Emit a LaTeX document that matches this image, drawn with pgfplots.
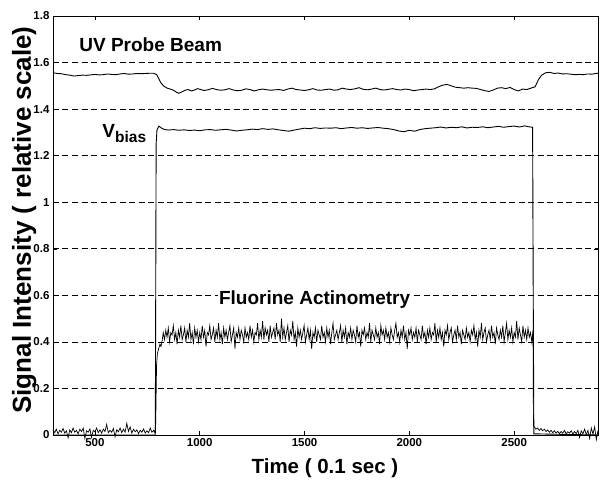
\documentclass[border=0pt]{standalone}
\usepackage{fontspec}
\setmainfont{Liberation Sans}
\usepackage{pgfplots}
\pgfplotsset{compat=1.18}
\begin{document}
\begin{tikzpicture}
\begin{axis}[
  name=ax,
  scale only axis, width=545pt, height=419pt,
  xmin=300, xmax=2900, ymin=0, ymax=1.8,
  xtick={500,1000,1500,2000,2500},
  ytick={0,0.2,0.4,0.6,0.8,1,1.2,1.4,1.6,1.8},
  /pgf/number format/1000 sep={},
  /pgf/number format/assume math mode=true,
  tick align=inside, major tick length=4pt,
  tick style={black, line width=0.5pt},
  ticklabel style={font=\bfseries\fontsize{11.5}{13}\selectfont},
  axis line style={black, line width=0.8pt},
  ymajorgrids,
  major grid style={black, line width=0.6pt, dash pattern=on 6pt off 3.5pt},
  xlabel={Time ( 0.1 sec )},
  ylabel={Signal Intensity ( relative scale)},
  every axis x label/.style={at={(axis description cs:0.499,-0.079)}, anchor=center, font=\bfseries\fontsize{20.5}{22}\selectfont},
  every axis y label/.style={at={(axis description cs:-0.053,0.513)}, rotate=90, anchor=center, font=\bfseries\fontsize{26}{28}\selectfont},
  clip=false,
]
% UV probe beam
\addplot[black, line width=0.9pt] coordinates {
(300,1.556)(320,1.553)(340,1.552)(360,1.548)(380,1.546)(400,1.542)(420,1.544)(440,1.546)(460,1.545)(480,1.547)
(500,1.549)(520,1.547)(540,1.548)(560,1.551)(580,1.549)(600,1.548)(620,1.551)(640,1.553)(660,1.550)(680,1.551)
(700,1.553)(720,1.552)(740,1.553)(760,1.554)(780,1.554)(795,1.548)(805,1.530)(815,1.512)(830,1.498)(845,1.490)
(860,1.486)(875,1.481)(890,1.472)(900,1.468)(915,1.474)(930,1.481)(945,1.484)(960,1.478)(975,1.482)(990,1.488)
(1005,1.484)(1020,1.480)(1040,1.483)(1060,1.489)(1080,1.484)(1100,1.481)(1120,1.483)(1140,1.488)(1160,1.482)(1180,1.479)
(1200,1.481)(1220,1.487)(1240,1.484)(1260,1.478)(1280,1.483)(1300,1.486)(1320,1.483)(1340,1.481)(1360,1.483)(1380,1.484)
(1400,1.480)(1420,1.486)(1440,1.490)(1460,1.484)(1480,1.482)(1500,1.480)(1520,1.483)(1540,1.488)(1560,1.482)(1580,1.481)
(1600,1.484)(1620,1.486)(1640,1.481)(1660,1.483)(1680,1.490)(1700,1.486)(1720,1.484)(1740,1.487)(1760,1.492)(1780,1.485)
(1800,1.483)(1820,1.486)(1840,1.490)(1860,1.484)(1880,1.482)(1900,1.485)(1920,1.488)(1940,1.484)(1960,1.482)(1980,1.486)
(2000,1.484)(2020,1.479)(2040,1.482)(2060,1.484)(2080,1.486)(2100,1.484)(2120,1.487)(2140,1.496)(2160,1.503)(2180,1.506)
(2200,1.500)(2220,1.494)(2240,1.492)(2260,1.490)(2280,1.492)(2300,1.490)(2320,1.489)(2340,1.484)(2360,1.479)(2380,1.476)
(2400,1.482)(2420,1.490)(2440,1.492)(2460,1.488)(2480,1.493)(2500,1.484)(2520,1.478)(2540,1.486)(2560,1.484)(2580,1.490)
(2600,1.496)(2615,1.525)(2630,1.545)(2650,1.556)(2670,1.558)(2690,1.553)(2710,1.555)(2730,1.551)(2750,1.552)(2770,1.550)
(2790,1.548)(2810,1.549)(2830,1.548)(2850,1.551)(2870,1.550)(2890,1.553)(2900,1.554)
};
% V bias
\addplot[black, line width=0.9pt] coordinates {
(300,0)(788,0)(790,0.6)(792,1.25)(796,1.31)(805,1.327)(815,1.320)(830,1.313)(850,1.310)(875,1.312)
(900,1.309)(925,1.311)(950,1.308)(975,1.310)(1000,1.307)(1025,1.311)(1050,1.312)(1075,1.309)(1100,1.311)(1125,1.313)
(1150,1.310)(1175,1.306)(1200,1.309)(1225,1.311)(1250,1.314)(1275,1.312)(1300,1.316)(1325,1.313)(1350,1.315)(1375,1.311)
(1400,1.308)(1425,1.305)(1450,1.310)(1475,1.314)(1500,1.318)(1525,1.316)(1550,1.320)(1575,1.317)(1600,1.319)(1625,1.318)
(1650,1.320)(1675,1.316)(1700,1.319)(1725,1.321)(1750,1.318)(1775,1.320)(1800,1.317)(1825,1.319)(1850,1.321)(1875,1.318)
(1900,1.316)(1925,1.312)(1950,1.306)(1975,1.303)(2000,1.309)(2025,1.305)(2050,1.312)(2075,1.316)(2100,1.318)(2125,1.320)
(2150,1.323)(2175,1.319)(2200,1.322)(2225,1.320)(2250,1.324)(2275,1.319)(2300,1.322)(2325,1.321)(2350,1.324)(2375,1.320)
(2400,1.323)(2425,1.326)(2450,1.322)(2475,1.325)(2500,1.327)(2525,1.323)(2550,1.328)(2570,1.324)(2588,1.322)(2591,0.6)
(2594,0.005)(2900,0)
};
% Fluorine actinometry
\addplot[black, line width=0.7pt] coordinates {
(300,0.02)(308,0.01)(316,0.025)(324,0.005)(332,0.02)(340,0.012)(348,0.028)(356,0.008)(364,0.018)(372,-0.012)
(380,0.022)(388,0.01)(396,0.03)(404,0.012)(412,0.02)(420,0.005)(428,0.025)(436,0.015)(444,0.03)(452,-0.015)
(460,0.018)(468,0.012)(476,0.026)(484,-0.01)(492,0.02)(500,0.014)(508,0.03)(516,0.01)(524,0.022)(532,0.008)
(540,0.025)(548,0.015)(556,0.045)(564,0.01)(572,0.02)(580,0.012)(588,0.028)(596,-0.008)(604,0.022)(612,0.014)
(620,0.03)(628,0.01)(636,0.025)(644,0.012)(652,0.05)(660,0.015)(668,0.035)(676,0.008)(684,0.025)(692,0.014)
(700,0.022)(708,0.006)(716,0.02)(724,0.012)(732,0.026)(740,0.008)(748,0.018)(756,0.01)(764,0.03)(772,0.012)
(780,0.02)(786,0.01)(790,0.05)(794,0.30)(798,0.35)(804,0.37)(810,0.39)(815,0.38)
(820,0.40)(826,0.44)(832,0.41)(838,0.45)(844,0.42)(850,0.46)(856,0.40)(862,0.44)(868,0.43)(874,0.47)
(880,0.41)(886,0.44)(892,0.39)(898,0.45)(904,0.42)(910,0.47)(916,0.41)(922,0.43)(928,0.46)(934,0.40)
(940,0.45)(946,0.42)(952,0.48)(958,0.41)(964,0.44)(970,0.39)(976,0.46)(982,0.42)(988,0.45)(994,0.40)
(1000,0.44)(1006,0.41)(1012,0.47)(1018,0.42)(1024,0.45)(1030,0.38)(1036,0.44)(1042,0.43)(1048,0.47)(1054,0.41)
(1060,0.43)(1066,0.46)(1072,0.40)(1078,0.45)(1084,0.42)(1090,0.48)(1096,0.41)(1102,0.44)(1108,0.39)(1114,0.46)
(1120,0.42)(1126,0.45)(1132,0.41)(1138,0.44)(1144,0.47)(1150,0.40)(1156,0.43)(1162,0.46)(1168,0.37)(1174,0.44)
(1180,0.42)(1186,0.46)(1192,0.41)(1198,0.45)(1204,0.43)(1210,0.40)(1216,0.46)(1222,0.42)(1228,0.44)(1234,0.41)
(1240,0.47)(1246,0.42)(1252,0.45)(1258,0.40)(1264,0.44)(1270,0.43)(1276,0.48)(1282,0.41)(1288,0.45)(1294,0.42)
(1300,0.49)(1306,0.41)(1312,0.46)(1318,0.43)(1324,0.45)(1330,0.40)(1336,0.47)(1342,0.42)(1348,0.44)(1354,0.46)
(1360,0.41)(1366,0.48)(1372,0.43)(1378,0.45)(1384,0.40)(1390,0.50)(1396,0.42)(1402,0.46)(1408,0.41)(1414,0.44)
(1420,0.47)(1426,0.40)(1432,0.45)(1438,0.43)(1444,0.49)(1450,0.41)(1456,0.44)(1462,0.38)(1468,0.46)(1474,0.42)
(1480,0.45)(1486,0.41)(1492,0.44)(1498,0.47)(1504,0.40)(1510,0.43)(1516,0.46)(1522,0.41)(1528,0.45)(1534,0.37)
(1540,0.44)(1546,0.42)(1552,0.46)(1558,0.40)(1564,0.45)(1570,0.43)(1576,0.41)(1582,0.47)(1588,0.42)(1594,0.44)
(1600,0.40)(1606,0.46)(1612,0.42)(1618,0.45)(1624,0.39)(1630,0.44)(1636,0.48)(1642,0.41)(1648,0.43)(1654,0.45)
(1660,0.41)(1666,0.44)(1672,0.47)(1678,0.40)(1684,0.45)(1690,0.42)(1696,0.46)(1702,0.39)(1708,0.44)(1714,0.42)
(1720,0.46)(1726,0.41)(1732,0.45)(1738,0.43)(1744,0.40)(1750,0.47)(1756,0.42)(1762,0.44)(1768,0.38)(1774,0.45)
(1780,0.43)(1786,0.46)(1792,0.41)(1798,0.44)(1804,0.42)(1810,0.48)(1816,0.40)(1822,0.45)(1828,0.43)(1834,0.41)
(1840,0.46)(1846,0.42)(1852,0.44)(1858,0.39)(1864,0.47)(1870,0.43)(1876,0.45)(1882,0.41)(1888,0.46)(1894,0.42)
(1900,0.44)(1906,0.40)(1912,0.46)(1918,0.43)(1924,0.41)(1930,0.45)(1936,0.48)(1942,0.42)(1948,0.44)(1954,0.40)
(1960,0.45)(1966,0.42)(1972,0.47)(1978,0.41)(1984,0.44)(1990,0.37)(1996,0.45)(2002,0.43)(2008,0.46)(2014,0.41)
(2020,0.44)(2026,0.42)(2032,0.46)(2038,0.40)(2044,0.45)(2050,0.43)(2056,0.41)(2062,0.47)(2068,0.42)(2074,0.44)
(2080,0.39)(2086,0.45)(2092,0.42)(2098,0.46)(2104,0.41)(2110,0.44)(2116,0.43)(2122,0.48)(2128,0.40)(2134,0.45)
(2140,0.42)(2146,0.46)(2152,0.41)(2158,0.44)(2164,0.38)(2170,0.45)(2176,0.43)(2182,0.47)(2188,0.41)(2194,0.44)
(2200,0.46)(2206,0.40)(2212,0.43)(2218,0.45)(2224,0.41)(2230,0.47)(2236,0.42)(2242,0.44)(2248,0.39)(2254,0.45)
(2260,0.43)(2266,0.41)(2272,0.46)(2278,0.42)(2284,0.44)(2290,0.40)(2296,0.45)(2302,0.43)(2308,0.47)(2314,0.41)
(2320,0.44)(2326,0.38)(2332,0.45)(2338,0.42)(2344,0.48)(2350,0.41)(2356,0.44)(2362,0.46)(2368,0.40)(2374,0.43)
(2380,0.45)(2386,0.41)(2392,0.47)(2398,0.42)(2404,0.44)(2410,0.39)(2416,0.46)(2422,0.43)(2428,0.41)(2434,0.45)
(2440,0.42)(2446,0.47)(2452,0.40)(2458,0.44)(2464,0.48)(2470,0.41)(2476,0.45)(2482,0.42)(2488,0.46)(2494,0.40)
(2500,0.44)(2506,0.42)(2512,0.49)(2518,0.41)(2524,0.46)(2530,0.43)(2536,0.40)(2542,0.47)(2548,0.42)(2554,0.45)
(2560,0.41)(2566,0.46)(2572,0.42)(2578,0.44)(2584,0.40)(2590,0.45)
(2592,0.04)(2596,0.035)(2604,0.025)(2612,0.03)(2620,0.02)(2628,0.028)(2636,0.018)(2644,0.025)(2652,0.015)(2660,0.022)
(2668,0.012)(2676,0.02)(2684,0.01)(2692,0.018)(2700,0.008)(2708,0.016)(2716,0.006)(2724,0.015)(2732,0.008)(2740,0.02)
(2748,0.005)(2756,0.014)(2764,0.008)(2772,0.018)(2780,0.004)(2788,0.015)(2796,0.006)(2804,0.02)(2812,-0.01)(2820,0.018)
(2828,0.005)(2836,0.025)(2844,0.002)(2852,0.02)(2860,-0.015)(2868,0.03)(2876,0.004)(2884,0.035)(2892,-0.02)(2900,0.02)
};
\node[anchor=west, inner sep=0pt, font=\bfseries\fontsize{19}{21}\selectfont] at (axis cs:425,1.675) {UV Probe Beam};
\node[anchor=base west, inner sep=0pt, font=\bfseries\fontsize{19}{21}\selectfont] at (axis cs:535,1.28) {V\raisebox{-5pt}{\fontsize{15.5}{17}\selectfont bias}};
\node[anchor=center, inner sep=1pt, fill=white, font=\bfseries\fontsize{19}{21}\selectfont] at (axis cs:1548,0.58) {Fluorine Actinometry};
\end{axis}
\path ([xshift=-53pt,yshift=-48pt]ax.south west) rectangle ([xshift=3pt,yshift=16pt]ax.north east);
\end{tikzpicture}
\end{document}
